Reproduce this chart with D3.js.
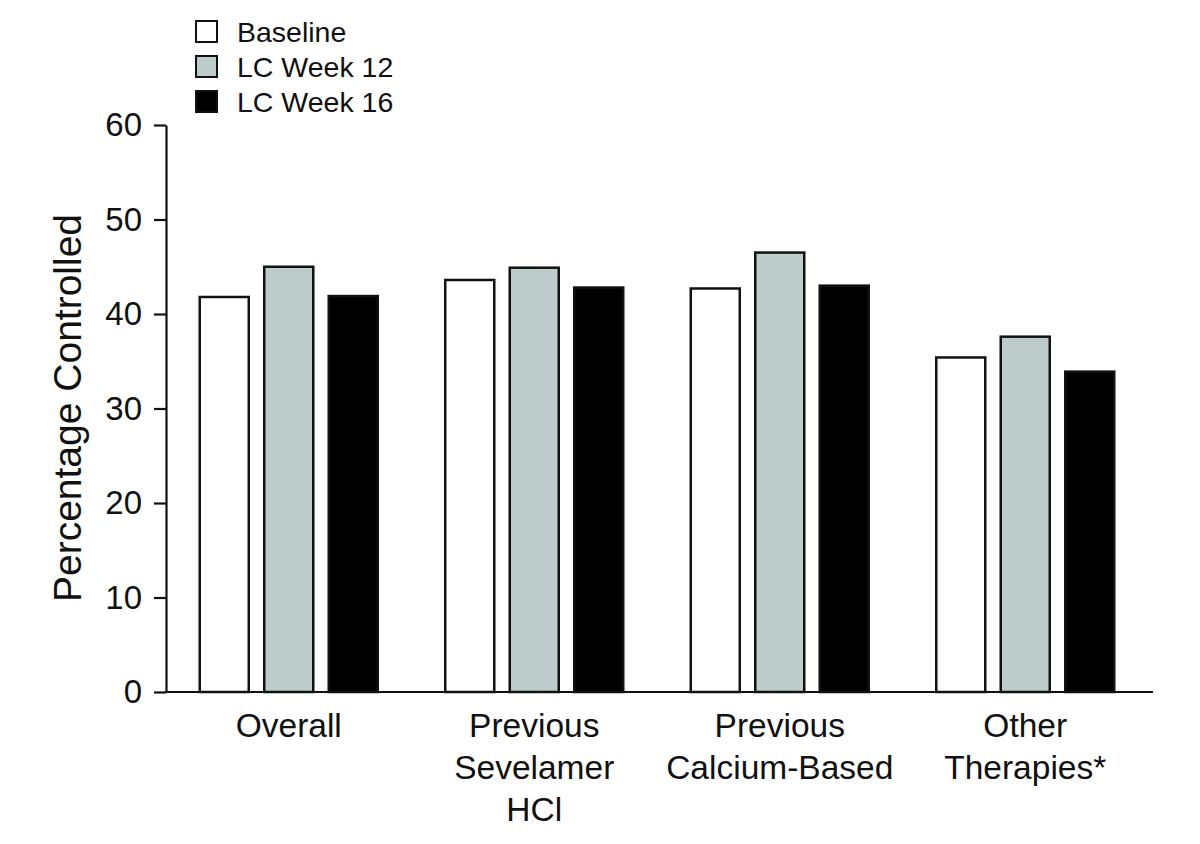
<!DOCTYPE html>
<html>
<head>
<meta charset="utf-8">
<script src="https://cdn.jsdelivr.net/npm/d3@7"></script>
<style>
  html, body { margin: 0; padding: 0; background: #fff; }
  svg { display: block; font-family: "Liberation Sans", Arial, sans-serif; }
</style>
</head>
<body>
<svg id="chart" width="1200" height="844"></svg>
<script>
// ---- data ----
const categories = [["Overall"], ["Previous", "Sevelamer", "HCl"], ["Previous", "Calcium-Based"], ["Other", "Therapies*"]];
const categoryKeys = ["Overall", "Previous Sevelamer HCl", "Previous Calcium-Based", "Other Therapies*"];
const seriesNames = ["Baseline", "LC Week 12", "LC Week 16"];
const baseline = [41.8, 43.6, 42.7, 35.4];
const week12 = [45.0, 44.9, 46.5, 37.6];
const week16 = [41.9, 42.8, 43.0, 33.9];
const yTicks = [0, 10, 20, 30, 40, 50, 60];
const seriesColors = ["#ffffff", "#bdcbcb", "#000000"];

const seriesValues = [baseline, week12, week16];
const rows = categoryKeys.map((k, i) => ({
  key: k, lines: categories[i],
  vals: seriesNames.map((s, j) => ({ series: s, idx: j, value: seriesValues[j][i] }))
}));

const svg = d3.select("#chart");

const y = d3.scaleLinear().domain([0, 60]).range([692, 125]);
const x0 = d3.scaleBand().domain(categoryKeys).range([166, 1148]).padding(0);
const innerW = 178;
const x1 = d3.scaleBand().domain(seriesNames).range([0, innerW]).paddingInner(0.24).paddingOuter(0);

// bars
const groups = svg.append("g").selectAll("g").data(rows).join("g")
  .attr("transform", d => `translate(${x0(d.key) + (x0.bandwidth() - innerW) / 2},0)`);

groups.selectAll("rect").data(d => d.vals).join("rect")
  .attr("x", d => x1(d.series))
  .attr("y", d => y(d.value))
  .attr("width", x1.bandwidth())
  .attr("height", d => y(0) - y(d.value))
  .attr("fill", d => seriesColors[d.idx])
  .attr("stroke", "#111")
  .attr("stroke-width", 2.5);

// y axis
const yAxis = d3.axisLeft(y).tickValues(yTicks).tickSize(12).tickPadding(12).tickSizeOuter(0);
const gy = svg.append("g").attr("transform", "translate(166,0)").call(yAxis);
gy.select(".domain").attr("stroke", "#111").attr("stroke-width", 2.2);
gy.selectAll(".tick line").attr("stroke", "#111").attr("stroke-width", 2.2);
gy.selectAll(".tick text").attr("font-size", 33).attr("fill", "#111")
  .attr("font-family", "Liberation Sans, Arial, sans-serif");

// x axis line
svg.append("line")
  .attr("x1", 165).attr("x2", 1153)
  .attr("y1", y(0)).attr("y2", y(0))
  .attr("stroke", "#111").attr("stroke-width", 2.2);

// x category labels
const lab = svg.append("g").selectAll("text").data(rows).join("text")
  .attr("x", d => x0(d.key) + x0.bandwidth() / 2)
  .attr("y", 737)
  .attr("text-anchor", "middle")
  .attr("font-size", 33.5)
  .attr("fill", "#111");
lab.selectAll("tspan").data(d => d.lines).join("tspan")
  .attr("x", function () { return d3.select(this.parentNode).attr("x"); })
  .attr("dy", (d, i) => i === 0 ? 0 : 42)
  .text(d => d);

// y label
svg.append("text")
  .attr("transform", "translate(81,408) rotate(-90)")
  .attr("text-anchor", "middle")
  .attr("font-size", 39)
  .attr("fill", "#111")
  .text("Percentage Controlled");

// legend
const leg = svg.append("g").selectAll("g").data(seriesNames).join("g")
  .attr("transform", (d, i) => `translate(196,${21 + i * 35})`);
leg.append("rect")
  .attr("width", 21).attr("height", 21)
  .attr("fill", (d, i) => seriesColors[i])
  .attr("stroke", "#111").attr("stroke-width", 2);
leg.append("text")
  .attr("x", 41).attr("y", 11)
  .attr("dy", "0.35em")
  .attr("font-size", 28.5)
  .attr("fill", "#111")
  .text(d => d);
</script>
</body>
</html>
